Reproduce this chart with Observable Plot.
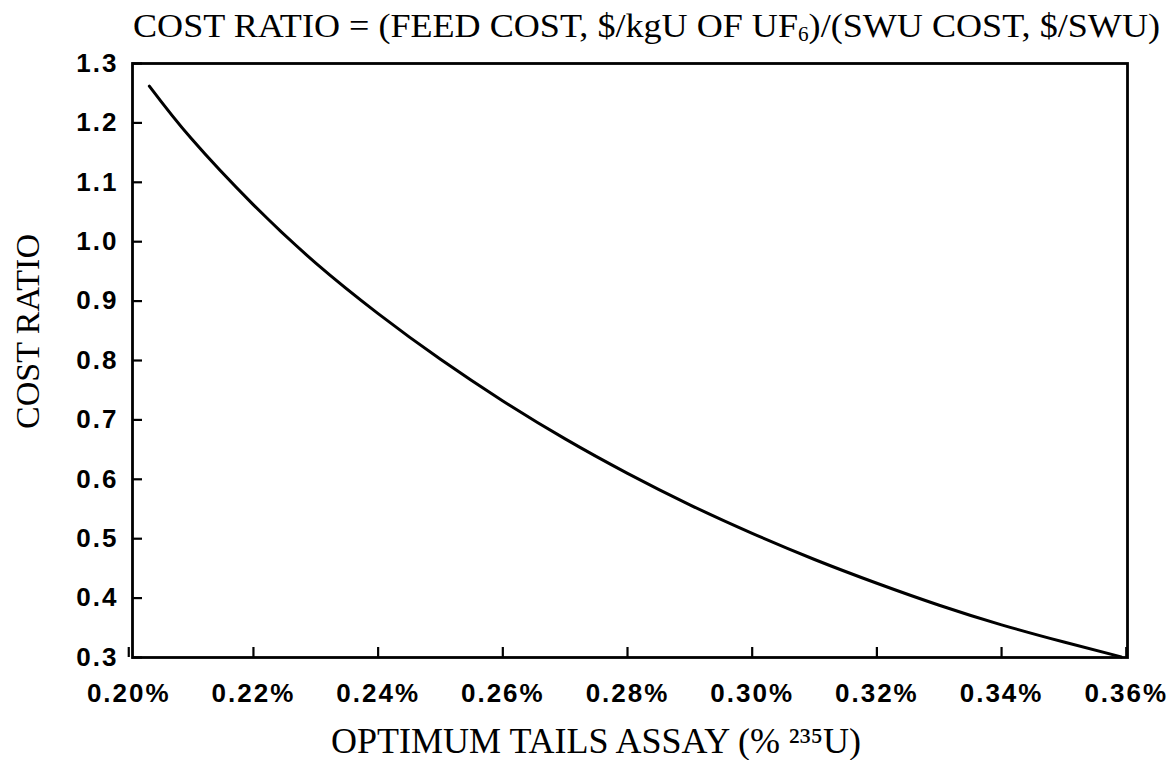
<!DOCTYPE html>
<html><head><meta charset="utf-8">
<script src="https://cdn.jsdelivr.net/npm/d3@7"></script>
<script src="https://cdn.jsdelivr.net/npm/@observablehq/plot@0.6"></script>
<style>
body{margin:0;background:#fff;}
#title{height:45px;position:relative;}
#title svg{display:block;overflow:visible}
g[aria-label$="tick label"] text{letter-spacing:2px}
</style></head><body>
<div id="title"></div>
<div id="chart"></div>
<script>
// Optimum tails assay (% U-235) vs cost ratio
const assayPct = [0.2033,0.21,0.22,0.23,0.24,0.25,0.26,0.27,0.28,0.29,0.30,0.31,0.32,0.33,0.34,0.35,0.3592];
const costRatio = [1.262,1.174,1.062,0.964,0.879,0.802,0.732,0.668,0.610,0.557,0.509,0.465,0.425,0.388,0.355,0.326,0.301];
const xTicks = [0.20,0.22,0.24,0.26,0.28,0.30,0.32,0.34,0.36];
const yTicks = [0.3,0.4,0.5,0.6,0.7,0.8,0.9,1.0,1.1,1.2,1.3];
const titleMain = "COST RATIO = (FEED COST, $/kgU OF UF";
const titleSub = "6";
const titleEnd = ")/(SWU COST, $/SWU)";
const yLabel = "COST RATIO";
const xLabel = "OPTIMUM TAILS ASSAY (% ²³⁵U)";

const data = assayPct.map((a,i)=>({assay:a, ratio:costRatio[i]}));

// Title (text above the chart)
document.getElementById("title").innerHTML =
  `<svg width="1175" height="45"><text x="133" y="37" textLength="1027" lengthAdjust="spacingAndGlyphs" style="font-family:'Liberation Serif',serif;font-size:34px;fill:#000">${titleMain}<tspan dy="4" style="font-size:20px">${titleSub}</tspan><tspan dy="-4">${titleEnd}</tspan></text></svg>`;

const serif = "'Liberation Serif', 'Times New Roman', serif";
const chart = Plot.plot({
  width: 1175, height: 715,
  marginTop: 18, marginBottom: 103, marginLeft: 132, marginRight: 48,
  style: {background: "#fff", color: "#000", fontFamily: "'Liberation Sans', Arial, sans-serif"},
  x: {domain: [0.2006, 0.3602]},
  y: {domain: [0.3, 1.3]},
  marks: [
    Plot.frame({stroke: "#000", strokeWidth: 2.8}),
    Plot.axisX(xTicks, {anchor: "bottom", tickSize: -10, tickPadding: 36, tickFormat: d => d.toFixed(2) + "%", fontSize: 26, fontWeight: "bold", strokeWidth: 2.2, label: null}),
    Plot.axisY(yTicks, {anchor: "left", tickSize: -10, tickPadding: 24, tickFormat: d => d.toFixed(1), fontSize: 26, fontWeight: "bold", strokeWidth: 2.2, label: null}),
    Plot.line(data, {x: "assay", y: "ratio", stroke: "#000", strokeWidth: 3, curve: "natural"}),
    Plot.text([yLabel], {text: d => d, frameAnchor: "left", textAnchor: "middle", rotate: -90, dx: -94, dy: -29, lineAnchor: "bottom", fontSize: 34, fontFamily: serif}),
    Plot.text([xLabel], {text: d => d, frameAnchor: "bottom", textAnchor: "middle", dx: -34, dy: 95, lineAnchor: "bottom", fontSize: 36, fontFamily: serif})
  ]
});
document.getElementById("chart").appendChild(chart);
</script>
</body></html>
